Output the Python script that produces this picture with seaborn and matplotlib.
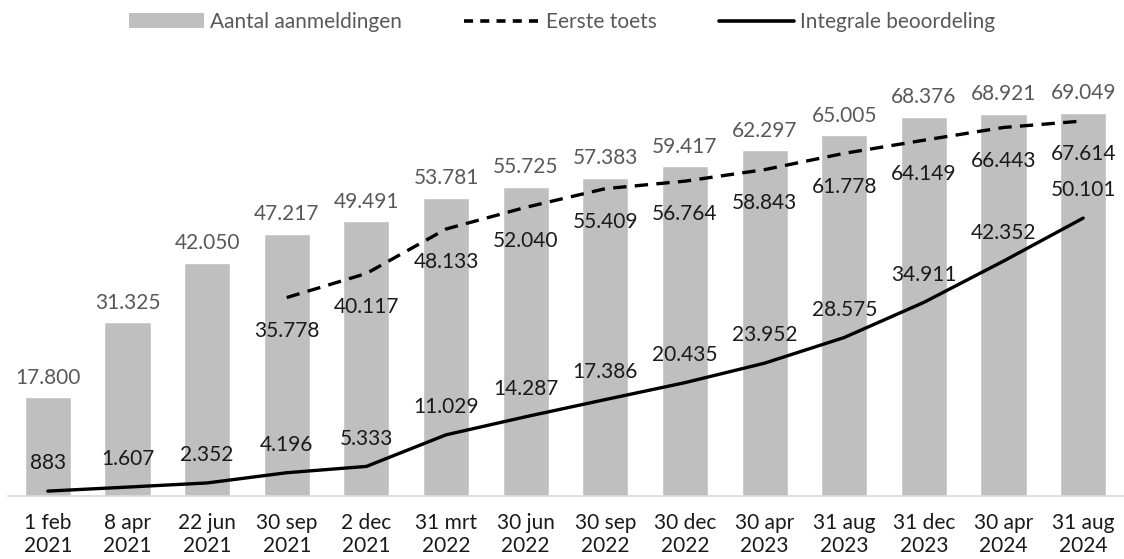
import numpy as np
import pandas as pd
import seaborn as sns
import matplotlib.pyplot as plt
from matplotlib.patches import Patch
from matplotlib.lines import Line2D

datums = ["1 feb\n2021", "8 apr\n2021", "22 jun\n2021", "30 sep\n2021", "2 dec\n2021",
          "31 mrt\n2022", "30 jun\n2022", "30 sep\n2022", "30 dec\n2022", "30 apr\n2023",
          "31 aug\n2023", "31 dec\n2023", "30 apr\n2024", "31 aug\n2024"]
aanmeldingen = [17800, 31325, 42050, 47217, 49491, 53781, 55725, 57383, 59417, 62297,
                65005, 68376, 68921, 69049]
eerste_toets = [np.nan, np.nan, np.nan, 35778, 40117, 48133, 52040, 55409, 56764, 58843,
                61778, 64149, 66443, 67614]
integrale = [883, 1607, 2352, 4196, 5333, 11029, 14287, 17386, 20435, 23952,
             28575, 34911, 42352, 50101]

df = pd.DataFrame({"datum": datums, "aanmeldingen": aanmeldingen,
                   "eerste": eerste_toets, "integraal": integrale})
df["pos"] = range(len(df))

sns.set_style("white")
plt.rcParams["font.family"] = ["Lato", "DejaVu Sans"]


def fmt(v):
    return f"{int(v):,}".replace(",", ".")


fig = plt.figure(figsize=(11.24, 5.59), dpi=100)
ax = fig.add_axes([8 / 1124, 63 / 559, 1115 / 1124, 416 / 559])

sns.barplot(data=df, x="pos", y="aanmeldingen", color="#BFBFBF", saturation=1,
            width=0.58, ax=ax)
sns.lineplot(data=df, x="pos", y="eerste", color="black", lw=2.4,
             dashes=False, ax=ax).lines[-1].set_dashes((4, 2.5))
sns.lineplot(data=df, x="pos", y="integraal", color="black", lw=2.4, ax=ax)

for i, row in df.iterrows():
    ax.annotate(fmt(row["aanmeldingen"]), (i, row["aanmeldingen"]), xytext=(0, 7),
                textcoords="offset points", ha="center", va="bottom",
                fontsize=15, color="#595959")
    if not np.isnan(row["eerste"]):
        ax.annotate(fmt(row["eerste"]), (i, row["eerste"]), xytext=(0, -24),
                    textcoords="offset points", ha="center", va="center",
                    fontsize=15, color="#1a1a1a")
    ax.annotate(fmt(row["integraal"]), (i, row["integraal"]), xytext=(0, 20),
                textcoords="offset points", ha="center", va="center",
                fontsize=15, color="#1a1a1a")

ax.set_ylim(0, 75000)
ax.set_xlim(-0.5, len(df) - 0.5)
ax.set_xticks(df["pos"])
ax.set_xticklabels(datums, fontsize=15, color="#1a1a1a", linespacing=1.2)
ax.tick_params(axis="x", length=0, pad=12)
ax.set_yticks([])
ax.set_xlabel("")
ax.set_ylabel("")
sns.despine(ax=ax, left=True)
ax.spines["bottom"].set_color("#D9D9D9")
ax.spines["bottom"].set_linewidth(1.2)

handles = [Patch(facecolor="#BFBFBF", edgecolor="none"),
           Line2D([], [], color="black", lw=2.6, dashes=(2.5, 2)),
           Line2D([], [], color="black", lw=2.6)]
fig.legend(handles, ["Aantal aanmeldingen", "Eerste toets", "Integrale beoordeling"],
           loc="center", bbox_to_anchor=(0.5, 1 - 22 / 559), ncol=3, frameon=False,
           fontsize=15, labelcolor="#595959", handlelength=3.6, columnspacing=3.0,
           handletextpad=0.3)

fig.savefig("out.png", dpi=100)
